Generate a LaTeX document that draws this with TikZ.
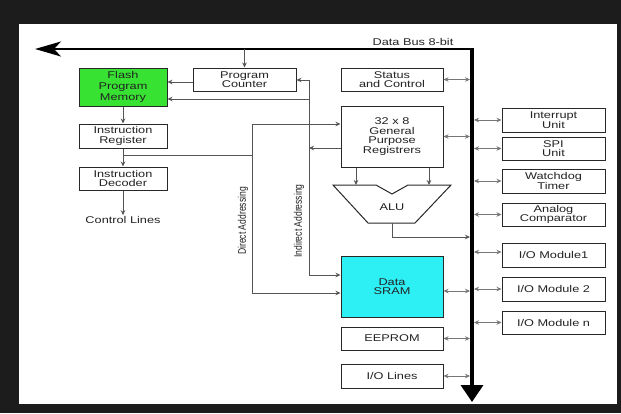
\documentclass[tikz,border=0pt]{standalone}
\usepackage{fontspec}
\setmainfont{Liberation Sans}[FakeStretch=1.3]
\newfontfamily\narrowfont{Liberation Sans}[FakeStretch=0.78]
\usetikzlibrary{arrows.meta}
\definecolor{bgdark}{RGB}{28,28,28}
\definecolor{boxline}{RGB}{40,40,40}
\definecolor{conn}{RGB}{85,85,85}
\definecolor{txt}{RGB}{35,35,35}
\definecolor{flashgreen}{RGB}{55,226,50}
\definecolor{sramcyan}{RGB}{45,240,245}
\begin{document}
\begin{tikzpicture}[x=1pt,y=-1pt,
  box/.style={draw=boxline,line width=1pt,inner sep=0pt,align=center,text=txt,
    font=\fontsize{9.8}{9.4}\selectfont},
  lbl/.style={inner sep=0pt,text=txt,font=\fontsize{9.8}{9.4}\selectfont},
  rot/.style={inner sep=0pt,text=txt,rotate=90,font=\narrowfont\fontsize{11}{11}\selectfont},
  arr/.style={draw=conn,line width=0.8pt,-{Stealth[length=5pt,width=4.5pt]}},
  dbl/.style={draw=conn!80,line width=0.7pt,{Stealth[length=5pt,width=4.5pt]}-{Stealth[length=5pt,width=4.5pt]}},
  ln/.style={draw=conn,line width=0.8pt}]
\fill[bgdark] (0,0) rectangle (621,413);
\fill[white] (19,24) rectangle (617,404);
% bus
\coordinate (corner) at (472,49);
\coordinate (busL) at (35,49);
\coordinate (busB) at (472,402);
\coordinate (busW) at (470,0);
\coordinate (busE) at (474,0);
\draw[line width=2pt,-{Stealth[length=26pt,width=15pt,inset=7pt]}] ([xshift=1pt]corner) -- (busL);
\draw[line width=3.5pt,-{Triangle[length=17pt,width=22pt]}] ([yshift=1pt]corner) -- (busB);
\node[lbl] (busl) at (413,42) {Data Bus 8-bit};
% left column
\node[box,fill=flashgreen,minimum width=88pt,minimum height=38pt,font=\fontsize{9.8}{11}\selectfont] (flash) at (123,87) {Flash\\Program\\Memory};
\node[box,minimum width=103pt,minimum height=23pt] (pc) at (244.5,79.5) {Program\\Counter};
\node[box,minimum width=88pt,minimum height=24pt] (irg) at (123,136) {Instruction\\Register};
\node[box,minimum width=88pt,minimum height=23pt] (idc) at (123,178.5) {Instruction\\Decoder};
\node[lbl] (ctl) at (123,220) {Control Lines};
% middle column
\node[box,minimum width=102pt,minimum height=23pt] (status) at (392,79.5) {Status\\and Control};
\node[box,minimum width=102pt,minimum height=61pt] (regs) at (392,136.5) {32 x 8\\General\\Purpose\\Registrers};
\node[box,fill=sramcyan,minimum width=102pt,minimum height=61pt] (sram) at (392,286.5) {Data\\SRAM};
\node[box,minimum width=102pt,minimum height=23pt] (eeprom) at (392,338.5) {EEPROM};
\node[box,minimum width=102pt,minimum height=24pt] (iol) at (392,376) {I/O Lines};
% ALU
\draw[draw=boxline,line width=1pt] (333,185) -- (376,185) -- (392,194) -- (408,185) -- (451,185) -- (415,223) -- (368,223) -- cycle;
\node[lbl] (alu) at (392,207) {ALU};
\coordinate (aluL) at (356,185);
\coordinate (aluR) at (429,185);
\coordinate (aluB) at (392,223);
\coordinate (aluTurn) at (392,237);
% right column
\node[box,minimum width=103pt,minimum height=24pt] (int) at (553.5,120) {Interrupt\\Unit};
\node[box,minimum width=103pt,minimum height=23pt] (spi) at (553.5,148.5) {SPI\\Unit};
\node[box,minimum width=103pt,minimum height=24pt] (wdt) at (553.5,181) {Watchdog\\Timer};
\node[box,minimum width=103pt,minimum height=23pt] (acmp) at (553.5,214.5) {Analog\\Comparator};
\node[box,minimum width=103pt,minimum height=24pt] (iom1) at (553.5,255) {I/O Module1};
\node[box,minimum width=103pt,minimum height=24pt] (iom2) at (553.5,289) {I/O Module 2};
\node[box,minimum width=103pt,minimum height=23pt] (iomn) at (553.5,322.5) {I/O Module n};
% rotated labels
\node[rot] (dlab) at (243,221) {Direct Addressing};
\node[rot] (ilab) at (299,221) {Indirect Addressing};
% left column connectors
\draw[arr] (pc.north |- corner) -- (pc.north);
\coordinate (pcw) at ([yshift=-2.5pt]pc.west);
\draw[arr] (pcw) -- (pcw -| flash.east);
\draw[arr] (flash.south) -- (irg.north);
\draw[arr] (irg.south) -- (idc.north);
\draw[arr] (idc.south) -- ([yshift=1pt]ctl.north);
% direct addressing
\coordinate (dJ) at (123,155);
\coordinate (dM) at (252,155);
\coordinate (dA) at (252,124);
\coordinate (dB) at (252,293);
\draw[ln] (dJ) -- (dM);
\draw[ln] (dA) -- (dB);
\draw[arr] (dA) -- (dA -| regs.west);
\draw[arr] (dB) -- (dB -| sram.west);
% indirect addressing
\coordinate (iT) at (309,80);
\coordinate (iF) at (309,99);
\coordinate (iR) at (309,148);
\coordinate (iB) at (309,275);
\draw[ln] (iT) -- (iB);
\draw[arr] (iT) -- (iT -| pc.east);
\draw[arr] (iF) -- (iF -| flash.east);
\draw[arr] (iR -| regs.west) -- (iR);
\draw[arr] (iB) -- (iB -| sram.west);
% ALU connectors
\draw[arr] (aluL |- regs.south) -- (aluL);
\draw[arr] (aluR |- regs.south) -- (aluR);
\draw[arr] (aluB) -- (aluTurn) -- (aluTurn -| busW);
% bus connections (left)
\draw[dbl] (status.east) -- (status.east -| busW);
\draw[dbl] (regs.east) -- (regs.east -| busW);
\coordinate (sre) at ([yshift=-4.5pt]sram.east);
\draw[dbl] (sre) -- (sre -| busW);
\draw[dbl] (eeprom.east) -- (eeprom.east -| busW);
\draw[dbl] (iol.east) -- (iol.east -| busW);
% bus connections (right)
\draw[dbl] (int.west -| busE) -- (int.west);
\draw[dbl] (spi.west -| busE) -- (spi.west);
\draw[dbl] (wdt.west -| busE) -- (wdt.west);
\draw[dbl] (acmp.west -| busE) -- (acmp.west);
\coordinate (m1w) at ([yshift=3pt]iom1.west);
\draw[dbl] (m1w -| busE) -- (m1w);
\draw[dbl] (iom2.west -| busE) -- (iom2.west);
\draw[dbl] (iomn.west -| busE) -- (iomn.west);
\end{tikzpicture}
\end{document}
